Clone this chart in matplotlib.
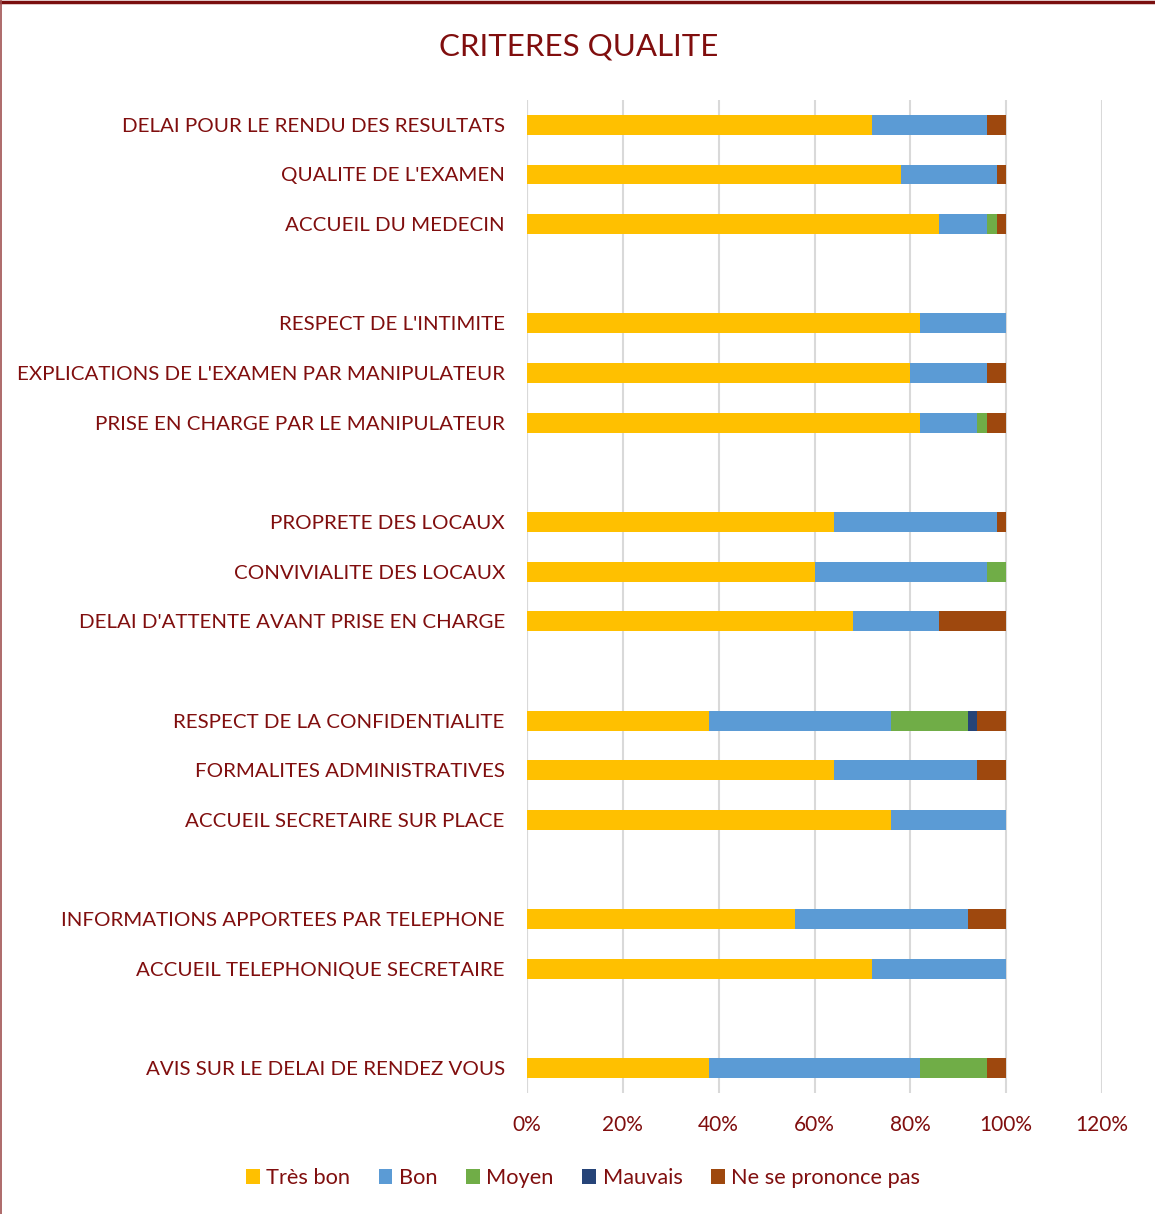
import numpy as np
import matplotlib
matplotlib.use("Agg")
import matplotlib.pyplot as plt
from matplotlib.lines import Line2D
from matplotlib.patches import Patch

plt.rcParams['font.family'] = ['Lato', 'DejaVu Sans']

categories = [
    "DELAI POUR LE RENDU DES RESULTATS",
    "QUALITE DE L'EXAMEN",
    "ACCUEIL DU MEDECIN",
    "",
    "RESPECT DE L'INTIMITE",
    "EXPLICATIONS DE L'EXAMEN PAR MANIPULATEUR",
    "PRISE EN CHARGE PAR LE MANIPULATEUR",
    "",
    "PROPRETE DES LOCAUX",
    "CONVIVIALITE DES LOCAUX",
    "DELAI D'ATTENTE AVANT PRISE EN CHARGE",
    "",
    "RESPECT DE LA CONFIDENTIALITE",
    "FORMALITES ADMINISTRATIVES",
    "ACCUEIL SECRETAIRE SUR PLACE",
    "",
    "INFORMATIONS APPORTEES PAR TELEPHONE",
    "ACCUEIL TELEPHONIQUE SECRETAIRE",
    "",
    "AVIS SUR LE DELAI DE RENDEZ VOUS",
]
nan = np.nan
tres_bon = [72, 78, 86, nan, 82, 80, 82, nan, 64, 60, 68, nan, 38, 64, 76, nan, 56, 72, nan, 38]
bon      = [24, 20, 10, nan, 18, 16, 12, nan, 34, 36, 18, nan, 38, 30, 24, nan, 36, 28, nan, 44]
moyen    = [0, 0, 2, nan, 0, 0, 2, nan, 0, 4, 0, nan, 16, 0, 0, nan, 0, 0, nan, 14]
mauvais  = [0, 0, 0, nan, 0, 0, 0, nan, 0, 0, 0, nan, 2, 0, 0, nan, 0, 0, nan, 0]
nsp      = [4, 2, 2, nan, 0, 4, 4, nan, 2, 0, 14, nan, 6, 6, 0, nan, 8, 0, nan, 4]

series_names = ["Très bon", "Bon", "Moyen", "Mauvais", "Ne se prononce pas"]
colors = ["#FFC000", "#5B9BD5", "#70AD47", "#264478", "#9E480E"]
xticks = [0, 20, 40, 60, 80, 100, 120]
xtick_labels = ["0%", "20%", "40%", "60%", "80%", "100%", "120%"]

txt = "#800E0E"
W, H = 1155, 1214
fig = plt.figure(figsize=(W / 100, H / 100), dpi=100)
ax = fig.add_axes([527 / W, 1 - 1093 / H, (1102 - 527) / W, (1093 - 100) / H])

y = np.arange(len(categories))
left = np.zeros(len(categories))
for name, vals, c in zip(series_names, [tres_bon, bon, moyen, mauvais, nsp], colors):
    v = np.array(vals, dtype=float)
    ax.barh(y, np.nan_to_num(v), left=left, height=0.4, color=c, label=name, zorder=3)
    left = left + np.nan_to_num(v)

ax.set_ylim(len(categories) - 0.5, -0.5)
ax.set_xlim(0, 120)
ax.set_yticks(y)
ax.set_yticklabels(categories, fontsize=14.75, color=txt)
ax.set_xticks(xticks)
ax.set_xticklabels(xtick_labels, fontsize=15, color=txt)
ax.tick_params(axis='y', length=0, pad=16)
ax.tick_params(axis='x', length=0, pad=16)
ax.grid(axis='x', color='#D9D9D9', linewidth=1.5, zorder=0)
for s in ax.spines.values():
    s.set_visible(False)
ax.axvline(0, color='#D9D9D9', linewidth=1.5, zorder=1)

fig.text(579 / W, 1 - 46 / H, "CRITERES QUALITE", ha='center', va='center', fontsize=22.5, color=txt)

handles = [Patch(facecolor=c, edgecolor='none') for c in colors]
fig.legend(handles, series_names, loc='center', bbox_to_anchor=(583 / W, 1 - 1178 / H), ncol=5,
           frameon=False, fontsize=15.7, labelcolor=txt, handlelength=0.64, handleheight=0.64,
           handletextpad=0.3, columnspacing=1.3)

fig.add_artist(Line2D([0, 1], [1 - 2 / H, 1 - 2 / H], color='#7A0F0F', linewidth=2.5, transform=fig.transFigure))
fig.add_artist(Line2D([0.5 / W, 0.5 / W], [0, 1], color='#A05050', linewidth=1.2, transform=fig.transFigure))

fig.savefig("out.png", dpi=100)
